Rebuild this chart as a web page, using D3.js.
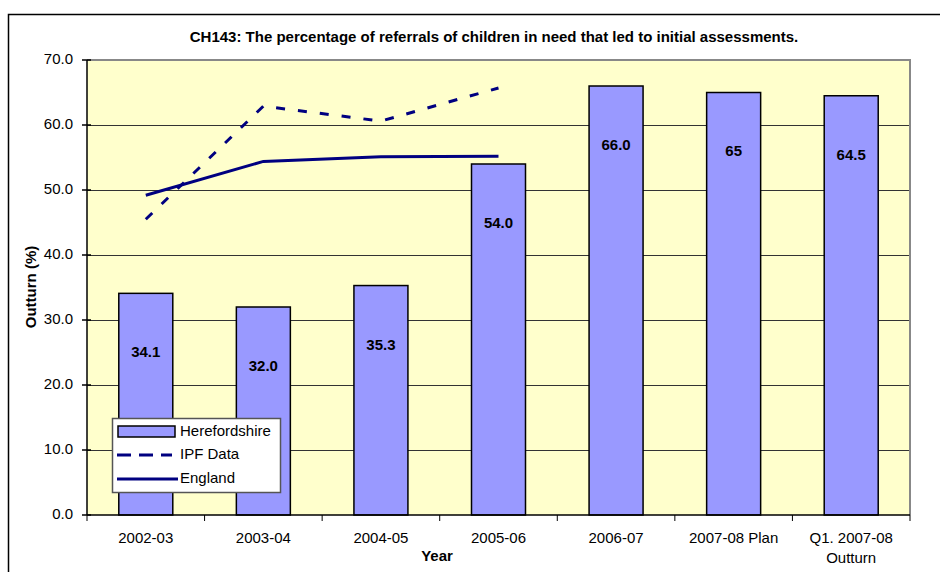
<!DOCTYPE html>
<html>
<head>
<meta charset="utf-8">
<script src="https://cdn.jsdelivr.net/npm/d3@7/dist/d3.min.js"></script>
<style>
  html, body { margin: 0; padding: 0; background: #fff; }
  svg { display: block; font-family: "Liberation Sans", Arial, sans-serif; }
</style>
</head>
<body>
<svg id="chart" width="940" height="572"></svg>
<script>
// Chart data
const categories = ["2002-03", "2003-04", "2004-05", "2005-06", "2006-07", "2007-08 Plan", "Q1. 2007-08\nOutturn"];
const herefordshire = [34.1, 32.0, 35.3, 54.0, 66.0, 65, 64.5];
const herefordLabels = ["34.1", "32.0", "35.3", "54.0", "66.0", "65", "64.5"];
const ipfData = [45.5, 62.9, 60.6, 65.7];
const england = [49.2, 54.4, 55.1, 55.2];
const yTicks = [0, 10, 20, 30, 40, 50, 60, 70];

const svg = d3.select("#chart");
const plot = { left: 87, right: 910, top: 60, bottom: 515 };
const FS = 15;

// Outer frame
svg.append("rect")
  .attr("x", 8.5).attr("y", 14.5).attr("width", 940).attr("height", 600)
  .attr("fill", "#fff").attr("stroke", "#000").attr("stroke-width", 1.5);

const x = d3.scaleBand().domain(categories).range([plot.left, plot.right]).paddingInner(0).paddingOuter(0);
const y = d3.scaleLinear().domain([0, 70]).range([plot.bottom, plot.top]);
const barW = 54;

// Plot area background
svg.append("rect")
  .attr("x", plot.left).attr("y", plot.top)
  .attr("width", plot.right - plot.left).attr("height", plot.bottom - plot.top)
  .attr("fill", "#FFFFCC");

// Gridlines
svg.append("g").selectAll("line").data(yTicks.filter(t => t > 0 && t < 70)).join("line")
  .attr("x1", plot.left).attr("x2", plot.right)
  .attr("y1", d => y(d) + 0.5).attr("y2", d => y(d) + 0.5)
  .attr("stroke", "#333").attr("stroke-width", 1);

// Plot area border (top and right in grey)
svg.append("path")
  .attr("d", `M${plot.left},${plot.top}H${plot.right}V${plot.bottom}`)
  .attr("fill", "none").attr("stroke", "#888").attr("stroke-width", 2);

// Bars
svg.append("g").selectAll("rect").data(herefordshire).join("rect")
  .attr("x", (d, i) => x(categories[i]) + (x.bandwidth() - barW) / 2)
  .attr("y", d => y(d))
  .attr("width", barW)
  .attr("height", d => y(0) - y(d))
  .attr("fill", "#9999FF").attr("stroke", "#000").attr("stroke-width", 1.5);

// Bar value labels
svg.append("g").selectAll("text").data(herefordshire).join("text")
  .attr("x", (d, i) => x(categories[i]) + x.bandwidth() / 2)
  .attr("y", d => y(d) + 60)
  .attr("text-anchor", "middle").attr("dominant-baseline", "middle")
  .attr("font-size", FS).attr("font-weight", "bold").attr("fill", "#000")
  .text((d, i) => herefordLabels[i]);

// Lines
const cx = i => x(categories[i]) + x.bandwidth() / 2;
const line = d3.line().x((d, i) => cx(i)).y(d => y(d));

svg.append("path").datum(ipfData).attr("d", line)
  .attr("fill", "none").attr("stroke", "#000080").attr("stroke-width", 3)
  .attr("stroke-dasharray", "9,13");

svg.append("path").datum(england).attr("d", line)
  .attr("fill", "none").attr("stroke", "#000080").attr("stroke-width", 3);

// Y axis
const yAxis = svg.append("g");
yAxis.append("line")
  .attr("x1", plot.left).attr("x2", plot.left).attr("y1", plot.top).attr("y2", plot.bottom)
  .attr("stroke", "#000").attr("stroke-width", 1.5);
yAxis.selectAll("line.tick").data(yTicks).join("line").attr("class", "tick")
  .attr("x1", plot.left - 5).attr("x2", plot.left + 4)
  .attr("y1", d => y(d)).attr("y2", d => y(d))
  .attr("stroke", "#000").attr("stroke-width", 1.5);
yAxis.selectAll("text").data(yTicks).join("text")
  .attr("x", 73).attr("y", d => y(d))
  .attr("text-anchor", "end").attr("dominant-baseline", "middle")
  .attr("font-size", FS).attr("fill", "#000")
  .text(d => d3.format(".1f")(d));

// X axis
const xAxis = svg.append("g");
xAxis.append("line")
  .attr("x1", plot.left).attr("x2", plot.right).attr("y1", plot.bottom).attr("y2", plot.bottom)
  .attr("stroke", "#000").attr("stroke-width", 1.5);
const boundaries = categories.map(c => x(c)).concat([plot.right]);
xAxis.selectAll("line.tick").data(boundaries).join("line").attr("class", "tick")
  .attr("x1", d => d).attr("x2", d => d)
  .attr("y1", plot.bottom).attr("y2", plot.bottom + 6)
  .attr("stroke", "#000").attr("stroke-width", 1);
const xl = xAxis.selectAll("text").data(categories).join("text")
  .attr("x", d => x(d) + x.bandwidth() / 2)
  .attr("y", 543)
  .attr("text-anchor", "middle")
  .attr("font-size", FS).attr("fill", "#000");
xl.each(function(d) {
  const parts = d.split("\n");
  const t = d3.select(this);
  parts.forEach((p, k) => {
    t.append("tspan").attr("x", x(d) + x.bandwidth() / 2).attr("dy", k === 0 ? 0 : 20).text(p);
  });
});

// Axis titles
svg.append("text")
  .attr("x", 437).attr("y", 561)
  .attr("text-anchor", "middle").attr("font-size", FS).attr("font-weight", "bold")
  .text("Year");
svg.append("text")
  .attr("transform", "translate(36,287) rotate(-90)")
  .attr("text-anchor", "middle").attr("font-size", FS).attr("font-weight", "bold")
  .text("Outturn (%)");

// Title
svg.append("text")
  .attr("x", 494).attr("y", 42)
  .attr("text-anchor", "middle").attr("font-size", FS).attr("font-weight", "bold")
  .text("CH143: The percentage of referrals of children in need that led to initial assessments.");

// Legend
const lg = svg.append("g");
lg.append("rect")
  .attr("x", 112.5).attr("y", 418.5).attr("width", 168).attr("height", 74)
  .attr("fill", "#fff").attr("stroke", "#555").attr("stroke-width", 1.5);
const legendItems = ["Herefordshire", "IPF Data", "England"];
const ly = [432, 455, 479];
lg.append("rect")
  .attr("x", 118).attr("y", 426).attr("width", 57).attr("height", 11)
  .attr("fill", "#9999FF").attr("stroke", "#000").attr("stroke-width", 1.5);
lg.append("line")
  .attr("x1", 117).attr("x2", 172).attr("y1", ly[1]).attr("y2", ly[1])
  .attr("stroke", "#000080").attr("stroke-width", 3).attr("stroke-dasharray", "14,8");
lg.append("line")
  .attr("x1", 117).attr("x2", 178).attr("y1", ly[2]).attr("y2", ly[2])
  .attr("stroke", "#000080").attr("stroke-width", 3);
lg.selectAll("text").data(legendItems).join("text")
  .attr("x", 180).attr("y", (d, i) => ly[i])
  .attr("dominant-baseline", "middle")
  .attr("font-size", FS).attr("fill", "#000")
  .text(d => d);
</script>
</body>
</html>
